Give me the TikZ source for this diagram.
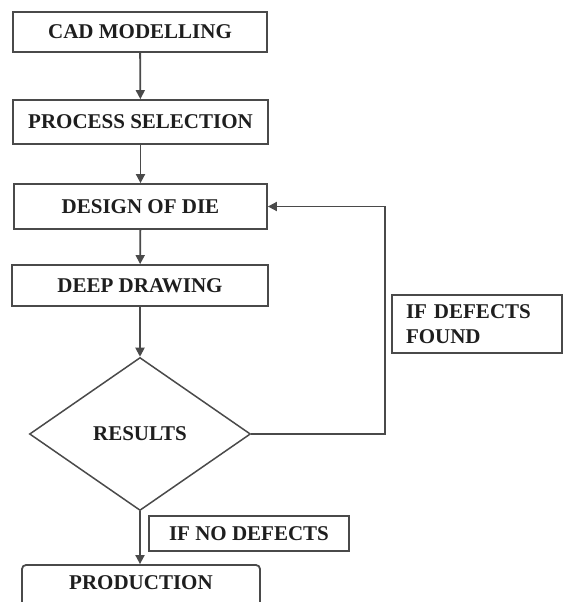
\documentclass[tikz,border=0pt]{standalone}
\usepackage{fontspec}
\setmainfont{Liberation Serif}
\usetikzlibrary{shapes.geometric,arrows.meta}
\definecolor{lineg}{HTML}{4A4A4A}
\definecolor{txt}{HTML}{1E1E1E}
\tikzset{
  box/.style={draw=lineg, line width=1.8pt, rectangle, inner sep=0pt, text=txt,
    font=\fontsize{21}{25}\selectfont\bfseries},
  dbox/.style={box, shape=diamond, line width=1.5pt},
  conn/.style={draw=lineg, line width=1.8pt, -{Triangle[width=9pt,length=9pt]}},
  lbl/.style={text=txt, font=\fontsize{21}{25}\selectfont\bfseries, inner sep=0pt}
}
\begin{document}
\begin{tikzpicture}[x=1pt,y=-1pt]
\useasboundingbox (0,0) rectangle (563,602);
\clip (0,0) rectangle (563,602);
\fill[white] (0,0) rectangle (563,602);
\node[box, minimum width=254pt, minimum height=40pt] (cad) at (140,32) {CAD MODELLING};
\node[box, minimum width=255pt, minimum height=44pt] (proc) at (140.5,122) {PROCESS SELECTION};
\node[box, minimum width=253pt, minimum height=45pt] (die) at (140.5,206.5) {DESIGN OF DIE};
\node[box, minimum width=256pt, minimum height=41pt] (deep) at (140,285.5) {DEEP DRAWING};
\node[dbox, minimum width=221pt, minimum height=153pt] (res) at (140,434) {RESULTS};
\node[box, minimum width=170pt, minimum height=58pt, text width=170pt, align=left] (fdf) at (477,324)
  {\hspace*{14pt}IF DEFECTS\\\hspace*{14pt}FOUND};
\node[box, minimum width=200pt, minimum height=35pt] (nodf) at (249,533.5) {IF NO DEFECTS};
\node[box, rounded corners=4pt, minimum width=238pt, minimum height=72pt] (prod) at (141,601) {};
\node[lbl] (prodt) at (141,583) {PRODUCTION};
\coordinate (fb) at (385,300);
\draw[conn] (cad) -- (proc);
\draw[conn] (proc) -- (die);
\draw[conn] (die) -- (deep);
\draw[conn] (deep) -- (res);
\draw[conn] (res.south) -- (prod.north -| res.south);
\draw[conn] (res.east) -| (fb) |- (die.east);
\end{tikzpicture}
\end{document}
